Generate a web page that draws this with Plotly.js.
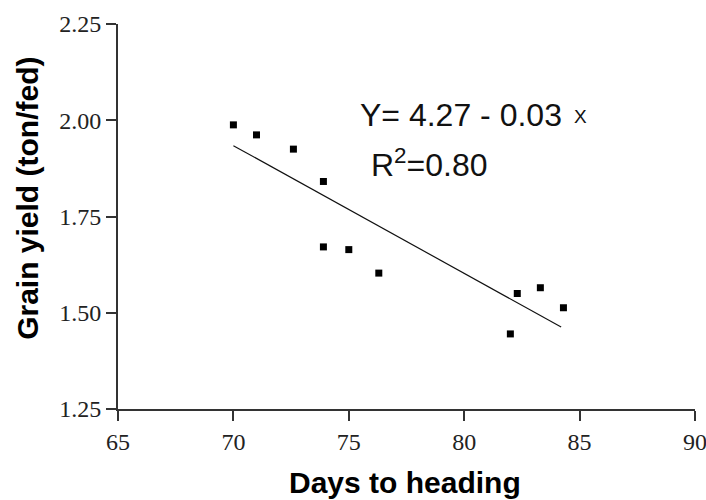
<!DOCTYPE html>
<html>
<head>
<meta charset="utf-8">
<script src="https://cdn.plot.ly/plotly-3.0.1.min.js"></script>
<style>
  html, body { margin: 0; padding: 0; background: #fff; }
  #chart { width: 706px; height: 500px; }
</style>
</head>
<body>
<div id="chart"></div>
<script>
// Observed data points (days to heading vs grain yield)
var daysToHeading = [70.0, 71.0, 72.6, 73.9, 73.9, 75.0, 76.3, 82.0, 82.3, 83.3, 84.3];
var grainYield    = [1.988, 1.962, 1.925, 1.841, 1.671, 1.664, 1.603, 1.445, 1.550, 1.565, 1.513];

// Fitted regression line end points
var fitX = [70.0, 84.2];
var fitY = [1.934, 1.463];

// Ticks
var xTickVals = [65, 70, 75, 80, 85, 90];
var xTickText = ["65", "70", "75", "80", "85", "90"];
var yTickVals = [1.25, 1.50, 1.75, 2.00, 2.25];
var yTickText = ["1.25", "1.50", "1.75", "2.00", "2.25"];

var equationText = "Y= 4.27 - 0.03";
var equationX = "X";
var r2Text = "R<sup>2</sup>=0.80";
var xTitle = "Days to heading";
var yTitle = "Grain yield (ton/fed)";

var traces = [
  {
    x: fitX, y: fitY, type: "scatter", mode: "lines",
    line: { color: "#111", width: 1.2 }, hoverinfo: "skip", showlegend: false
  },
  {
    x: daysToHeading, y: grainYield, type: "scatter", mode: "markers",
    marker: { symbol: "square", size: 7, color: "#000" }, showlegend: false
  }
];

var tickFont = { family: "'Liberation Serif', 'Times New Roman', serif", size: 24, color: "#222" };
var titleFont = { family: "'Liberation Sans', Arial, sans-serif", size: 30, color: "#000", weight: "bold" };
var eqFont = { family: "'Liberation Sans', Arial, sans-serif", size: 32, color: "#111" };

var layout = {
  width: 706, height: 500,
  margin: { l: 118, r: 11, t: 24, b: 91, pad: 0 },
  paper_bgcolor: "#fff", plot_bgcolor: "#fff",
  showlegend: false,
  xaxis: {
    range: [65, 90], autorange: false,
    tickmode: "array", tickvals: xTickVals, ticktext: xTickText,
    ticks: "outside", ticklen: 10, tickwidth: 2, tickcolor: "#333",
    showline: true, linecolor: "#333", linewidth: 2,
    showgrid: false, zeroline: false,
    ticklabeloverflow: "allow",
    tickfont: tickFont
  },
  yaxis: {
    range: [1.25, 2.25], autorange: false,
    tickmode: "array", tickvals: yTickVals, ticktext: yTickText,
    ticks: "outside", ticklen: 10, tickwidth: 2, tickcolor: "#333",
    showline: true, linecolor: "#333", linewidth: 2,
    showgrid: false, zeroline: false,
    ticklabeloverflow: "allow",
    tickfont: tickFont
  },
  annotations: [
    { text: equationText, x: 75.40, y: 2.014, xref: "x", yref: "y",
      xanchor: "left", yanchor: "middle", showarrow: false, font: eqFont },
    { text: equationX, x: 84.67, y: 2.010, xref: "x", yref: "y",
      xanchor: "left", yanchor: "middle", showarrow: false,
      font: { family: "'Liberation Sans', Arial, sans-serif", size: 19, color: "#111" } },
    { text: r2Text, x: 75.87, y: 1.889, xref: "x", yref: "y",
      xanchor: "left", yanchor: "middle", showarrow: false, font: eqFont },
    { text: xTitle, x: 0.497, y: -0.191, xref: "paper", yref: "paper",
      xanchor: "center", yanchor: "middle", showarrow: false, font: titleFont },
    { text: yTitle, x: -0.158, y: 0.548, xref: "paper", yref: "paper",
      xanchor: "center", yanchor: "middle", textangle: -90, showarrow: false, font: titleFont }
  ]
};

Plotly.newPlot("chart", traces, layout, { displayModeBar: false, staticPlot: true });
</script>
</body>
</html>
